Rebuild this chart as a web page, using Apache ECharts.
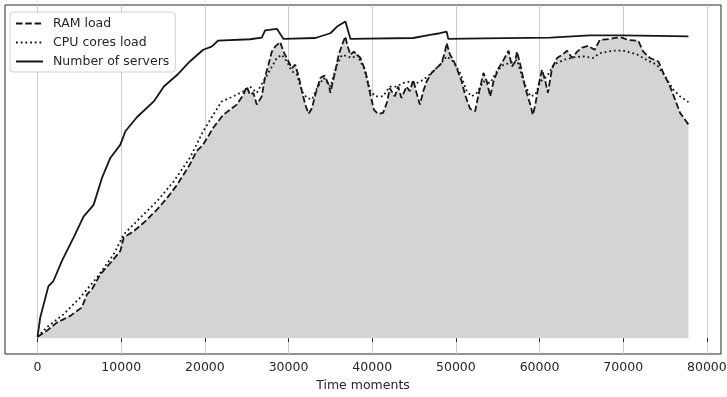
<!DOCTYPE html>
<html>
<head>
<meta charset="utf-8">
<script src="https://cdn.jsdelivr.net/npm/echarts@6/dist/echarts.min.js"></script>
<style>
  html, body { margin: 0; padding: 0; background: #fff; }
  #chart { width: 727px; height: 397px; }
</style>
</head>
<body>
<div id="chart"></div>
<script>
// x = time moment, y = load (scaled so the servers peak is 100)
const ramPoints = [
  [0, 0.4], [1100, 2.3], [2300, 4.9], [3900, 7], [5300, 9.7], [5900, 13.8], [6500, 15.4], [7500, 20.1],
  [8900, 24.3], [9900, 27.5], [10300, 31.7], [11500, 33.7], [12900, 36.9], [14300, 40.6], [15500, 44.2],
  [16700, 48.4], [18200, 54.7], [19000, 58.9], [19800, 61], [21000, 66.3], [22200, 70.4], [23000, 72],
  [23800, 73.6], [24600, 76.7], [25000, 79.3], [25400, 76.7], [25800, 77.3], [26200, 73.6], [26400, 73],
  [26800, 76.2], [27200, 82.5], [27600, 86.2], [28000, 90.3], [28400, 91.9], [29000, 93.3], [29400, 90.3],
  [30000, 87.2], [30400, 85.1], [30800, 86.2], [31200, 82.5], [31600, 77.8], [32000, 73.6], [32400, 70.7],
  [32800, 72.5], [33200, 76.7], [33800, 82], [34300, 82.8], [34800, 79.9], [35000, 77.3], [35400, 82],
  [36000, 89.3], [36400, 92.5], [36800, 95.1], [37000, 92.5], [37400, 89.3], [37800, 90.3], [38200, 89.3],
  [38600, 88.3], [39200, 84.1], [39600, 78.8], [40200, 72], [40700, 70.7], [41300, 71], [41800, 74.6],
  [42100, 78.8], [42700, 76.2], [43100, 79.3], [43500, 75.7], [44100, 79.3], [44500, 77.8], [44900, 81.4],
  [45300, 77.3], [45700, 73.6], [46100, 77.8], [46500, 80.9], [47100, 83.6], [47700, 85.1], [48300, 86.7],
  [48700, 90.3], [48900, 93], [49300, 89.3], [49700, 87.7], [50100, 85.1], [50700, 80.9], [51100, 76.7],
  [51700, 72.3], [52300, 71.5], [52700, 76.7], [53300, 83.6], [53700, 80.9], [54100, 76.2], [54500, 80.9],
  [55100, 85.1], [55700, 87.7], [56300, 90.6], [56700, 85.6], [57100, 87.2], [57300, 90.3], [57700, 86.2],
  [58300, 78.8], [58900, 73.6], [59200, 70.4], [59500, 73.6], [59900, 79.9], [60300, 84.6], [60700, 80.9],
  [61000, 77.3], [61500, 85.1], [62100, 88.3], [62700, 89.3], [63300, 90.6], [63900, 88.3], [64500, 90.3],
  [65100, 91.6], [65800, 92.1], [66600, 90.9], [67200, 94], [68400, 94.3], [69200, 94.7], [69800, 94.7],
  [70600, 94], [71800, 93.7], [72400, 90.3], [73200, 88.3], [74200, 87.2], [74800, 83.6], [75600, 79.3],
  [76200, 75.2], [76800, 71], [77800, 67.3]
];

const cpuPoints = [
  [0, 0.4], [1100, 3.4], [3100, 7.5], [5100, 12.8], [7100, 19.1], [9100, 26.4], [10300, 32.7], [12300, 38],
  [14300, 43.2], [16300, 49.5], [18200, 56.8], [19800, 65.2], [21000, 70.4], [22000, 74.6], [23400, 76.2],
  [24600, 77.8], [25400, 79.3], [26200, 77.3], [27200, 81.8], [27800, 84.6], [28600, 88.3], [29200, 89.3],
  [29800, 87.2], [30400, 84.1], [31000, 83], [31600, 77.8], [32200, 75.7], [32800, 75.2], [33400, 78.8],
  [34200, 82], [35000, 79.3], [35800, 86.2], [36400, 89.3], [37000, 88.8], [37600, 88.3], [38200, 89.3],
  [39000, 85.1], [39800, 77.8], [40400, 76.2], [41300, 76.2], [42100, 79.3], [42900, 79.3], [43700, 80.4],
  [44500, 80.9], [45300, 80.4], [46100, 81.4], [47100, 83.6], [48100, 86.2], [48900, 88.8], [49700, 87.2],
  [50500, 83.6], [51300, 77.8], [51900, 76.2], [52500, 77.3], [53300, 80.9], [54100, 80.4], [54900, 84.1],
  [55700, 86.2], [56500, 86.7], [57300, 87.7], [58100, 80.9], [58900, 76.2], [59500, 76.7], [60100, 80.9],
  [60900, 82.5], [61700, 86.2], [62900, 87.7], [64100, 88.5], [65300, 88.8], [66400, 88.3], [67200, 89.8],
  [68800, 90.6], [70000, 90.6], [71600, 89.5], [72800, 87.7], [74000, 86.2], [75000, 82.5], [76000, 78.3],
  [76800, 76.2], [77800, 74.4]
];

const serverPoints = [
  [0, 0.4], [320, 6.5], [1300, 16.4], [1900, 18], [2900, 24.3], [4300, 31.7], [5500, 38.3], [6700, 42],
  [7700, 50.5], [8700, 56.8], [9900, 61], [10500, 65.2], [11900, 69.7], [13900, 74.6], [15100, 79.3],
  [16700, 83], [18200, 87.2], [19800, 90.9], [20800, 91.9], [21600, 93.8], [25400, 94.2], [26800, 94.7],
  [27200, 97], [28600, 97.5], [28800, 97.5], [29400, 94.3], [33200, 94.6], [33400, 95.1], [35000, 96.1],
  [35800, 98.2], [36800, 99.8], [37000, 100], [37400, 94.3], [44900, 94.6], [45100, 95], [46900, 95.6],
  [48100, 96.1], [48900, 96.6], [49100, 94.3], [53300, 94.5], [61300, 94.7], [61500, 95.1], [66000, 95.4],
  [69600, 95.4], [74000, 95.3], [77800, 95.1]
];

const xTicks = [0, 10000, 20000, 30000, 40000, 50000, 60000, 70000, 80000];
const seriesNames = ['RAM load', 'CPU cores load', 'Number of servers'];

const font = 'DejaVu Sans';
const ink = '#262626';
const lineInk = '#161616';

const chart = echarts.init(document.getElementById('chart'), null, { renderer: 'canvas' });

chart.setOption({
  animation: false,
  grid: {
    left: 5, right: 6, top: 5, bottom: 43,
    show: true, borderColor: ink, borderWidth: 1,
    containLabel: false, outerBoundsMode: 'none'
  },
  legend: {
    orient: 'vertical',
    left: 10, top: 12,
    data: seriesNames,
    backgroundColor: '#fff',
    borderColor: '#d0d0d0', borderWidth: 1, borderRadius: 3,
    padding: [5, 6, 4, 5],
    itemWidth: 27, itemHeight: 14, itemGap: 6,
    itemStyle: { opacity: 0 },
    lineStyle: { width: 2 },
    textStyle: { fontFamily: font, fontSize: 12.5, color: ink, padding: [0, 0, 0, 5] }
  },
  xAxis: {
    type: 'value',
    min: -3890, max: 81690,
    name: 'Time moments',
    nameLocation: 'middle',
    nameGap: 24,
    nameTextStyle: { fontFamily: font, fontSize: 12.5, color: ink },
    axisLine: { show: false },
    axisTick: { show: true, length: 4, lineStyle: { color: ink }, customValues: xTicks },
    axisLabel: {
      fontFamily: font, fontSize: 12.5, color: ink, margin: 7, customValues: xTicks,
      formatter: v => String(v)
    },
    splitLine: { show: true, lineStyle: { color: '#cccccc', width: 1 } }
  },
  yAxis: {
    type: 'value',
    min: -5, max: 105,
    show: false,
    splitLine: { show: false }
  },
  series: [
    {
      name: seriesNames[0], type: 'line', data: ramPoints, symbol: 'none',
      lineStyle: { color: lineInk, width: 1.8, type: [6.5, 2.8] },
      itemStyle: { color: lineInk },
      areaStyle: { color: '#d4d4d4', opacity: 1 },
      z: 2
    },
    {
      name: seriesNames[1], type: 'line', data: cpuPoints, symbol: 'none',
      lineStyle: { color: lineInk, width: 1.8, type: [1.8, 2.9] },
      itemStyle: { color: lineInk },
      z: 3
    },
    {
      name: seriesNames[2], type: 'line', data: serverPoints, symbol: 'none',
      lineStyle: { color: lineInk, width: 1.8 },
      itemStyle: { color: lineInk },
      z: 4
    }
  ]
});
</script>
</body>
</html>
